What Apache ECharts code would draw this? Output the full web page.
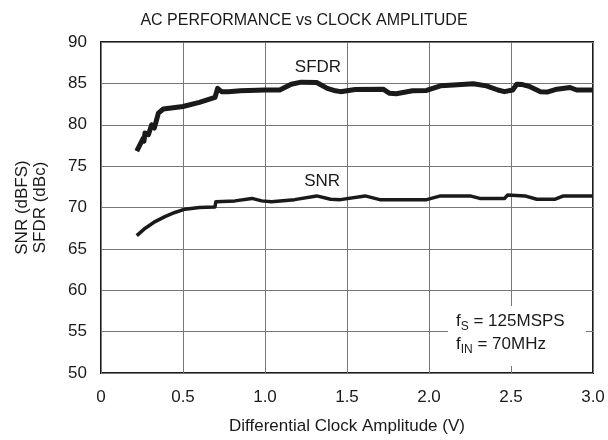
<!DOCTYPE html>
<html>
<head>
<meta charset="utf-8">
<script src="https://cdn.jsdelivr.net/npm/echarts@6/dist/echarts.min.js"></script>
<style>
  html, body { margin: 0; padding: 0; background: #fff; }
  #chart { width: 608px; height: 440px; }
</style>
</head>
<body>
<div id="chart"></div>
<script>
  // values
  var sfdrX = [0.218, 0.258, 0.262, 0.268, 0.289, 0.309, 0.325, 0.35, 0.38, 0.50, 0.60, 0.695, 0.705, 0.711, 0.735, 0.776, 0.85, 1.0, 1.09, 1.16, 1.22, 1.315, 1.38, 1.43, 1.46, 1.55, 1.72, 1.76, 1.80, 1.90, 1.985, 2.07, 2.15, 2.27, 2.35, 2.42, 2.46, 2.51, 2.535, 2.57, 2.616, 2.68, 2.72, 2.78, 2.86, 2.9, 3.0]
  var sfdrY = [76.8, 78.4, 78.0, 79.0, 78.8, 80.0, 79.6, 81.4, 81.9, 82.2, 82.7, 83.3, 83.3, 84.4, 84.0, 84.0, 84.1, 84.2, 84.2, 84.9, 85.15, 85.1, 84.4, 84.1, 84.0, 84.25, 84.3, 83.8, 83.75, 84.1, 84.15, 84.7, 84.8, 84.95, 84.7, 84.2, 84.0, 84.2, 84.9, 84.85, 84.6, 84.0, 83.95, 84.3, 84.5, 84.2, 84.2]
  var snrX = [0.218, 0.27, 0.33, 0.39, 0.45, 0.512, 0.6, 0.695, 0.70, 0.817, 0.92, 0.98, 1.04, 1.18, 1.315, 1.40, 1.46, 1.61, 1.70, 1.986, 2.07, 2.25, 2.31, 2.46, 2.48, 2.585, 2.657, 2.77, 2.82, 3.0]
  var snrY = [66.6, 67.5, 68.3, 68.9, 69.4, 69.8, 70.0, 70.05, 70.7, 70.8, 71.1, 70.8, 70.7, 70.95, 71.4, 71.0, 70.95, 71.4, 70.95, 70.95, 71.4, 71.4, 71.1, 71.1, 71.5, 71.4, 71.0, 71.0, 71.4, 71.4]
  var xTicks = ['0', '0.5', '1.0', '1.5', '2.0', '2.5', '3.0']
  var yTicks = [50, 55, 60, 65, 70, 75, 80, 85, 90]

  function pairs (xs, ys) {
    var out = []
    for (var i = 0; i < xs.length; i++) out.push([xs[i], ys[i]])
    return out
  }

  var font = 'Liberation Sans, Arial, sans-serif'
  var ink = '#1a1a1a'

  var option = {
    animation: false,
    textStyle: { fontFamily: font },
    title: {
      text: 'AC PERFORMANCE vs CLOCK AMPLITUDE',
      left: 'center',
      top: 8,
      textStyle: { fontSize: 16, fontWeight: 'normal', color: ink, fontFamily: font }
    },
    grid: {
      left: 101, right: 15, top: 42, bottom: 65,
      show: true, borderColor: ink, borderWidth: 2, backgroundColor: 'transparent'
    },
    xAxis: {
      type: 'value',
      min: 0, max: 3, interval: 0.5,
      name: 'Differential Clock Amplitude (V)',
      nameLocation: 'middle',
      nameGap: 45,
      nameTextStyle: { fontSize: 17, color: ink, fontFamily: font },
      axisLine: { show: false },
      axisTick: { show: false },
      axisLabel: {
        fontSize: 17, color: ink, margin: 16, fontFamily: font,
        formatter: function (v) { return xTicks[Math.round(v * 2)] }
      },
      splitLine: { show: true, lineStyle: { color: '#777', width: 1 } }
    },
    yAxis: {
      type: 'value',
      min: yTicks[0], max: yTicks[yTicks.length - 1], interval: 5,
      name: 'SNR (dBFS)\nSFDR (dBc)',
      nameLocation: 'middle',
      nameRotate: 90,
      nameGap: 52,
      nameTextStyle: { fontSize: 17, color: ink, lineHeight: 18, fontFamily: font },
      axisLine: { show: false },
      axisTick: { show: false },
      axisLabel: { fontSize: 17, color: ink, margin: 14, fontFamily: font },
      splitLine: { show: true, lineStyle: { color: '#777', width: 1 } }
    },
    series: [
      {
        name: 'SFDR',
        type: 'line',
        showSymbol: false,
        data: pairs(sfdrX, sfdrY),
        lineStyle: { color: ink, width: 5, join: 'round' },
        markPoint: {
          symbolSize: 0,
          label: { show: true, formatter: 'SFDR', fontSize: 17, color: ink, fontFamily: font },
          data: [{ coord: [1.323, 86.9] }]
        },
        z: 3
      },
      {
        name: 'SNR',
        type: 'line',
        showSymbol: false,
        data: pairs(snrX, snrY),
        lineStyle: { color: ink, width: 3.5, join: 'round' },
        markPoint: {
          symbolSize: 0,
          label: { show: true, formatter: 'SNR', fontSize: 17, color: ink, fontFamily: font },
          data: [{ coord: [1.348, 73.2] }]
        },
        z: 3
      }
    ],
    graphic: [
      {
        type: 'rect',
        shape: { x: 448, y: 306, width: 138, height: 60 },
        style: { fill: '#fff' },
        z: 10
      },
      {
        type: 'text',
        x: 456, y: 310,
        z: 11,
        style: {
          text: '{f|f}{s|S}{f| = 125MSPS}\n{f|f}{s|IN}{f| = 70MHz}',
          fontFamily: font,
          rich: {
            f: { fontSize: 17, fill: ink, fontFamily: font, lineHeight: 23 },
            s: { fontSize: 12, fill: ink, fontFamily: font, verticalAlign: 'bottom', padding: [7, 0, 0, 0], lineHeight: 23 }
          }
        }
      }
    ]
  }

  var chart = echarts.init(document.getElementById('chart'))
  chart.setOption(option)
</script>
</body>
</html>
